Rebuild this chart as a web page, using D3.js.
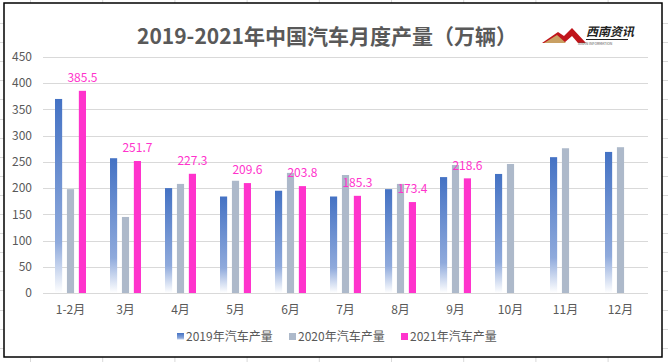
<!DOCTYPE html>
<html>
<head>
<meta charset="utf-8">
<script src="https://cdn.jsdelivr.net/npm/d3@7"></script>
<style>
  body { margin: 0; background: #fff; }
  text { font-family: "Noto Sans CJK SC", "Noto Sans", sans-serif; }
</style>
</head>
<body>
<div id="chart"></div>
<script>
// data (万辆)
var months = ["1-2月", "3月", "4月", "5月", "6月", "7月", "8月", "9月", "10月", "11月", "12月"];
var seriesNames = ["2019年汽车产量", "2020年汽车产量", "2021年汽车产量"];
var v2019 = [370, 257, 200, 184, 195, 184, 198, 221, 227, 259, 269];
var v2020 = [198, 145, 208, 214, 229, 225, 208, 244, 246, 276, 278];
var v2021 = [385.5, 251.7, 227.3, 209.6, 203.8, 185.3, 173.4, 218.6, null, null, null];
var yTicks = [0, 50, 100, 150, 200, 250, 300, 350, 400, 450];

var W = 668, H = 362;
var margin = {top: 57, right: 20, bottom: 69, left: 43};

var svg = d3.select("#chart").append("svg")
    .attr("width", W)
    .attr("height", H);

// spreadsheet cell lines behind the chart
var bg = svg.append("g").attr("stroke", "#d9d9d9").attr("stroke-width", 1);
d3.range(30, W, 72.2).forEach(function(x) {
  bg.append("line").attr("x1", x + 0.5).attr("x2", x + 0.5).attr("y1", 0).attr("y2", H);
});
d3.range(23, H, 19.1).forEach(function(y) {
  bg.append("line").attr("x1", 0).attr("x2", W).attr("y1", Math.round(y) + 0.5).attr("y2", Math.round(y) + 0.5);
});

// chart area with black frame
svg.append("rect")
    .attr("x", 4).attr("y", 3)
    .attr("width", 658).attr("height", 354)
    .attr("fill", "#fff")
    .attr("stroke", "#000")
    .attr("stroke-width", 1.5);

var defs = svg.append("defs");
var grad = defs.append("linearGradient")
    .attr("id", "blueGrad")
    .attr("x1", 0).attr("y1", 0).attr("x2", 0).attr("y2", 1);
grad.append("stop").attr("offset", "0%").attr("stop-color", "#4472C4");
grad.append("stop").attr("offset", "74%").attr("stop-color", "#8faadc");
grad.append("stop").attr("offset", "100%").attr("stop-color", "#ffffff");

var colors = ["url(#blueGrad)", "#ADB9CA", "#FF33CC"];
var legendColors = ["#4472C4", "#ADB9CA", "#FF33CC"];

var x = d3.scaleBand()
    .domain(months)
    .range([margin.left, W - margin.right])
    .padding(0);

var y = d3.scaleLinear()
    .domain([0, 450])
    .range([H - margin.bottom, margin.top]);

// horizontal gridlines
svg.append("g")
  .selectAll("line")
  .data(yTicks)
  .join("line")
    .attr("x1", margin.left)
    .attr("x2", W - margin.right)
    .attr("y1", function(d) { return Math.round(y(d)) + 0.5; })
    .attr("y2", function(d) { return Math.round(y(d)) + 0.5; })
    .attr("stroke", "#d9d9d9")
    .attr("stroke-width", 1);

// y axis labels
svg.append("g")
  .selectAll("text")
  .data(yTicks)
  .join("text")
    .attr("x", 32)
    .attr("y", function(d) { return y(d); })
    .attr("dy", "0.35em")
    .attr("text-anchor", "end")
    .attr("font-size", 12)
    .attr("fill", "#595959")
    .text(function(d) { return d; });

// x axis labels
svg.append("g")
  .selectAll("text")
  .data(months)
  .join("text")
    .attr("x", function(d) { return x(d) + x.bandwidth() / 2; })
    .attr("y", 310)
    .attr("dy", "0.35em")
    .attr("text-anchor", "middle")
    .attr("font-size", 12)
    .attr("fill", "#595959")
    .text(function(d) { return d; });

// bars
var xs = d3.scaleBand()
    .domain([0, 1, 2])
    .range([-15.5, 15.5])
    .paddingInner(0.4);

var allSeries = [v2019, v2020, v2021];
allSeries.forEach(function(vals, si) {
  svg.append("g")
    .selectAll("rect")
    .data(months.map(function(m, i) { return {m: m, v: vals[i]}; }).filter(function(d) { return d.v != null; }))
    .join("rect")
      .attr("x", function(d) { return x(d.m) + x.bandwidth() / 2 + xs(si); })
      .attr("y", function(d) { return y(d.v); })
      .attr("width", xs.bandwidth())
      .attr("height", function(d) { return y(0) - y(d.v); })
      .attr("fill", colors[si]);
});

// 2021 value labels
svg.append("g")
  .selectAll("text")
  .data(months.map(function(m, i) { return {m: m, v: v2021[i]}; }).filter(function(d) { return d.v != null; }))
  .join("text")
    .attr("x", function(d) { return x(d.m) + x.bandwidth() / 2 + xs(2) + xs.bandwidth() / 2; })
    .attr("y", function(d) { return y(d.v) - 13; })
    .attr("dy", "0.35em")
    .attr("text-anchor", "middle")
    .attr("font-size", 12)
    .attr("fill", "#FF33CC")
    .text(function(d) { return d.v.toFixed(1); });

// title
svg.append("text")
    .attr("x", 327)
    .attr("y", 37)
    .attr("dy", "0.35em")
    .attr("text-anchor", "middle")
    .attr("font-size", 21)
    .attr("font-weight", "bold")
    .attr("fill", "#595959")
    .text("2019-2021年中国汽车月度产量（万辆）");

// legend
var legendX = [177, 289, 401];
var legend = svg.append("g");
seriesNames.forEach(function(name, i) {
  legend.append("rect")
      .attr("x", legendX[i])
      .attr("y", 333)
      .attr("width", 7)
      .attr("height", 7)
      .attr("fill", i == 0 ? "url(#blueGrad)" : legendColors[i]);
  legend.append("text")
      .attr("x", legendX[i] + 9)
      .attr("y", 337)
      .attr("dy", "0.35em")
      .attr("font-size", 12)
      .attr("fill", "#595959")
      .text(name);
});

// logo (西南资讯)
var logo = svg.append("g").attr("transform", "translate(542,24)");
logo.append("path")
    .attr("d", "M0,19 L16,8 L22,12 L30,4 L44,19 L36,19 L30,12 L22,19 Z")
    .attr("fill", "#c0151b");
logo.append("path")
    .attr("d", "M2,19 L15,11 L24,19 Z")
    .attr("fill", "#c9a063");
logo.append("text")
    .attr("x", 44)
    .attr("y", 12)
    .attr("font-size", 12)
    .attr("font-weight", "bold")
    .attr("font-style", "italic")
    .attr("fill", "#222")
    .text("西南资讯");
logo.append("line")
    .attr("x1", 44).attr("x2", 86)
    .attr("y1", 15.5).attr("y2", 15.5)
    .attr("stroke", "#222").attr("stroke-width", 1);
logo.append("text")
    .attr("x", 36)
    .attr("y", 21)
    .attr("font-size", 3.5)
    .attr("fill", "#555")
    .text("XINAN INFORMATION");
</script>
</body>
</html>
